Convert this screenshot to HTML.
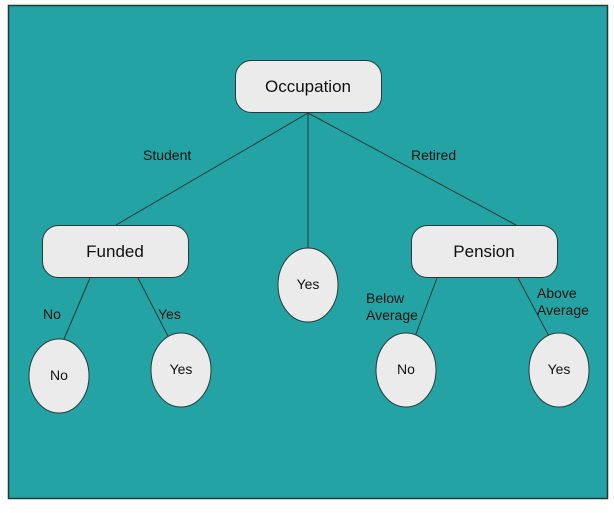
<!DOCTYPE html>
<html><head><style>
html,body{margin:0;padding:0;background:#fff;width:614px;height:513px;overflow:hidden}
svg{display:block}
text{font-family:"Liberation Sans",sans-serif;fill:#111}
</style></head><body>
<svg width="614" height="513" viewBox="0 0 614 513">
<rect x="8.5" y="5.5" width="599" height="493" fill="#23a3a3" stroke="#1e3a3a" stroke-width="1.5"/>
<g stroke="#2a3a3a" stroke-width="1" fill="none">
<line x1="308" y1="113" x2="116" y2="225"/>
<line x1="308" y1="113" x2="308" y2="248"/>
<line x1="308" y1="113" x2="516" y2="225"/>
<line x1="90" y1="278" x2="64" y2="339"/>
<line x1="138" y1="278" x2="170" y2="340"/>
<line x1="437" y1="278" x2="414" y2="339"/>
<line x1="518" y1="278" x2="551" y2="340"/>
</g>
<g fill="#ebebeb" stroke="#2a3a3a" stroke-width="1">
<rect x="235.5" y="60.5" width="146" height="52" rx="16"/>
<rect x="42.5" y="225.5" width="146" height="52" rx="16"/>
<rect x="411.5" y="225.5" width="146" height="52" rx="16"/>
<ellipse cx="308" cy="285" rx="30" ry="37"/>
<ellipse cx="59" cy="376" rx="30" ry="37"/>
<ellipse cx="181" cy="370" rx="30" ry="37"/>
<ellipse cx="406" cy="370" rx="30" ry="37"/>
<ellipse cx="559" cy="370" rx="30" ry="37"/>
</g>
<g text-anchor="middle" font-size="17">
<text x="308" y="92">Occupation</text>
<text x="115" y="257">Funded</text>
<text x="484" y="257">Pension</text>
</g>
<g text-anchor="middle" font-size="14">
<text x="308" y="289">Yes</text>
<text x="59" y="380">No</text>
<text x="181" y="374">Yes</text>
<text x="406" y="374">No</text>
<text x="559" y="374">Yes</text>
</g>
<g font-size="14">
<text x="143" y="160">Student</text>
<text x="411" y="160">Retired</text>
<text x="43" y="319">No</text>
<text x="158" y="319">Yes</text>
<text x="366" y="303">Below</text>
<text x="366" y="320">Average</text>
<text x="537" y="298">Above</text>
<text x="537" y="315">Average</text>
</g>
</svg>
</body></html>
